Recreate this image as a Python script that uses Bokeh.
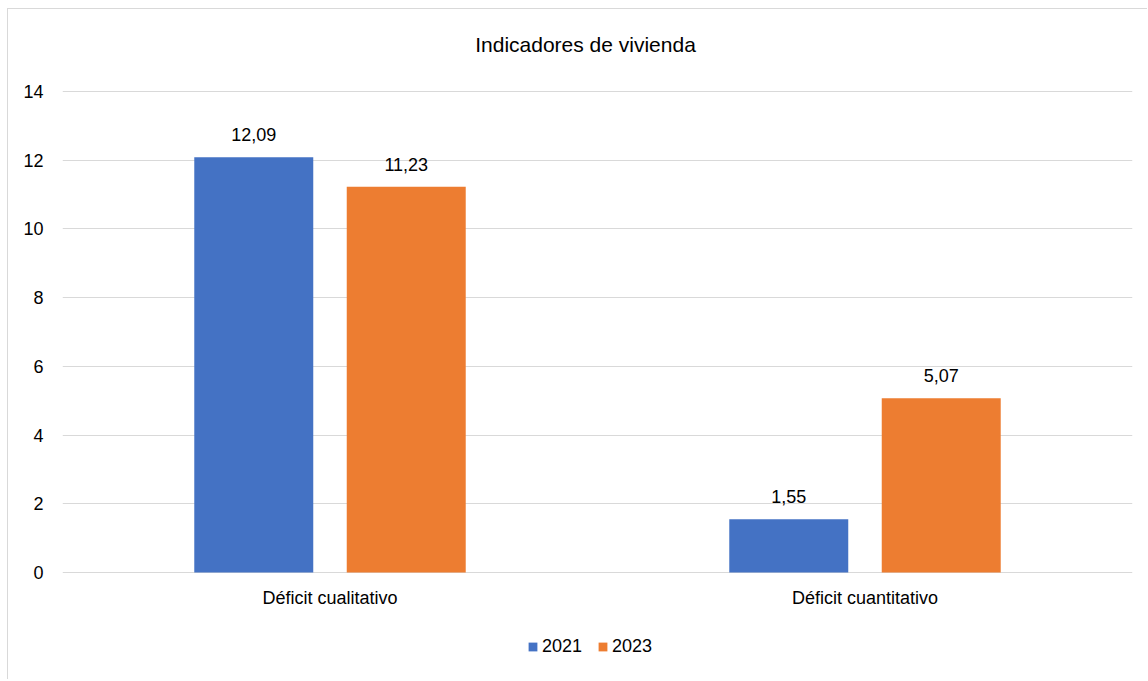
from bokeh.plotting import figure
from bokeh.models import (ColumnDataSource, FactorRange, Range1d, FixedTicker,
                          LabelSet, Label, Legend, LegendItem)
from bokeh.core.properties import value
from bokeh.transform import dodge
from bokeh.embed import file_html
from bokeh.resources import INLINE

categories = ["Déficit cualitativo", "Déficit cuantitativo"]
years = ["2021", "2023"]
values_2021 = [12.09, 1.55]
values_2023 = [11.23, 5.07]
y_ticks = [0, 2, 4, 6, 8, 10, 12, 14]
title_text = "Indicadores de vivienda"

FONT = "Liberation Sans"
BLUE = "#4472C4"
ORANGE = "#ED7D31"
GRID = "#d9d9d9"

def fmt(v):
    return f"{v:.2f}".replace(".", ",")

src = ColumnDataSource(dict(
    cat=categories,
    v2021=values_2021,
    v2023=values_2023,
    l2021=[fmt(v) for v in values_2021],
    l2023=[fmt(v) for v in values_2023],
))

# frame spans the full height; value 0 sits at y=572 px and 14 at y=91 px
p = figure(width=1140, height=671, output_backend="svg", toolbar_location=None,
           x_range=FactorRange(*categories, range_padding=0),
           y_range=Range1d(-3.1435, 16.387),
           min_border_left=54, min_border_right=16, min_border_top=0,
           min_border_bottom=0)
p.styles = {"margin-left": "7px", "margin-top": "8px",
            "border-left": "1px solid #d9d9d9", "border-top": "1px solid #d9d9d9"}

off = 0.1425
w = 0.2224
r1 = p.vbar(x=dodge("cat", -off, range=p.x_range), top="v2021", width=w,
            source=src, color=BLUE, line_color=None)
r2 = p.vbar(x=dodge("cat", off, range=p.x_range), top="v2023", width=w,
            source=src, color=ORANGE, line_color=None)

for col, lab, o in (("v2021", "l2021", -off), ("v2023", "l2023", off)):
    ls = LabelSet(x=dodge("cat", o, range=p.x_range), y=col, text=lab, source=src,
                  text_align="center", text_baseline="alphabetic", y_offset=16,
                  text_font=value(FONT), text_font_size=value("18px"),
                  text_color="black")
    p.add_layout(ls)

title = Label(x=0.9776, y=15.37, text=title_text, text_align="center",
              text_baseline="alphabetic", text_font=FONT, text_font_size="21px",
              text_color="black")
p.add_layout(title)

p.yaxis.ticker = FixedTicker(ticks=y_ticks)
p.xaxis.fixed_location = 0
for ax in (p.xaxis[0], p.yaxis[0]):
    ax.axis_line_color = None
    ax.major_tick_line_color = None
    ax.minor_tick_line_color = None
    ax.major_tick_out = 0
    ax.major_tick_in = 0
    ax.minor_tick_out = 0
    ax.minor_tick_in = 0
    ax.major_label_text_font = FONT
    ax.major_label_text_font_size = "18px"
    ax.major_label_text_color = "black"
p.yaxis.major_label_standoff = 19
p.xaxis.major_label_standoff = 15

p.xgrid.grid_line_color = None
p.ygrid.grid_line_color = GRID
p.ygrid.grid_line_width = 1
p.outline_line_color = None

legend = Legend(items=[LegendItem(label=years[0], renderers=[r1]),
                       LegendItem(label=years[1], renderers=[r2])],
                orientation="horizontal", location=(465, 23),
                glyph_width=11, glyph_height=11, label_standoff=4, spacing=15,
                label_text_font=FONT, label_text_font_size="18px",
                label_text_color="black", border_line_color=None,
                background_fill_alpha=0, padding=0, margin=0)
p.add_layout(legend, "center")

open("out.html", "w").write(file_html(p, INLINE))
